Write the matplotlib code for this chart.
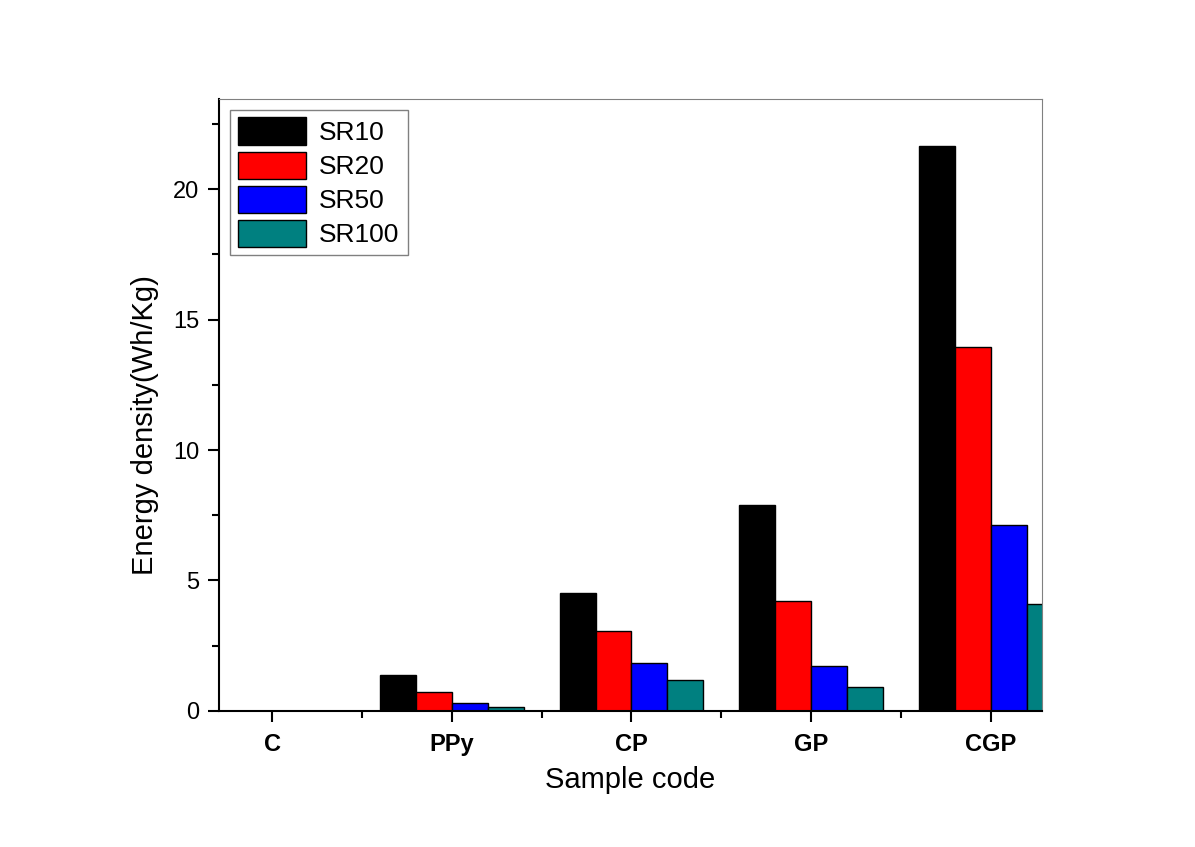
import numpy as np
import matplotlib
matplotlib.use("Agg")
import matplotlib.pyplot as plt
from matplotlib.ticker import MultipleLocator, FixedLocator

plt.rcParams["font.family"] = ["Liberation Sans", "DejaVu Sans"]

# ---- data ----
samples = ["C", "PPy", "CP", "GP", "CGP"]
series = ["SR10", "SR20", "SR50", "SR100"]
sr10 = [0.0, 1.38, 4.52, 7.89, 21.65]
sr20 = [0.0, 0.73, 3.07, 4.21, 13.95]
sr50 = [0.0, 0.31, 1.84, 1.72, 7.13]
sr100 = [0.0, 0.15, 1.19, 0.92, 4.10]
colors = ["#000000", "#ff0000", "#0000ff", "#008080"]

fig = plt.figure(figsize=(11.95, 8.47), dpi=100)
ax = fig.add_axes([0.1833, 0.1606, 0.6887, 0.7225])

x = np.arange(1, len(samples) + 1)
width = 0.2
for i, (name, vals) in enumerate(zip(series, [sr10, sr20, sr50, sr100])):
    ax.bar(x - 0.3 + i * width, vals, width, color=colors[i],
           edgecolor="black", linewidth=1.0, label=name)

ax.set_xlim(0.705, 5.285)
ax.set_ylim(0, 23.45)

# ticks: major at categories, minor between
ax.set_xticks(x)
ax.set_xticklabels(samples, fontsize=16, fontweight="bold")
ax.xaxis.set_minor_locator(FixedLocator(x[:-1] + 0.5))
ax.yaxis.set_major_locator(MultipleLocator(5))
ax.yaxis.set_minor_locator(MultipleLocator(2.5))
ax.tick_params(axis="both", which="major", direction="out", length=8, width=1.5,
               labelsize=17, pad=6)
ax.tick_params(axis="both", which="minor", direction="out", length=5, width=1.5)
ax.tick_params(axis="x", which="major", pad=8)

for side in ["left", "bottom"]:
    ax.spines[side].set_linewidth(1.5)
for side in ["top", "right"]:
    ax.spines[side].set_linewidth(0.8)
    ax.spines[side].set_color("#808080")

ax.set_xlabel("Sample code", fontsize=21, labelpad=7)
ax.set_ylabel("Energy density(Wh/Kg)", fontsize=21)
# label sits a bit below the axis middle in the original
ax.yaxis.set_label_coords(-0.073, 0.468)

leg = ax.legend(loc="upper left", fontsize=19, fancybox=False, framealpha=1,
                edgecolor="#808080", handlelength=2.6, handleheight=1.2,
                borderaxespad=0.4, borderpad=0.3, labelspacing=0.25,
                handletextpad=0.5)
leg.get_frame().set_linewidth(1.0)

fig.savefig("out.png", dpi=100)
